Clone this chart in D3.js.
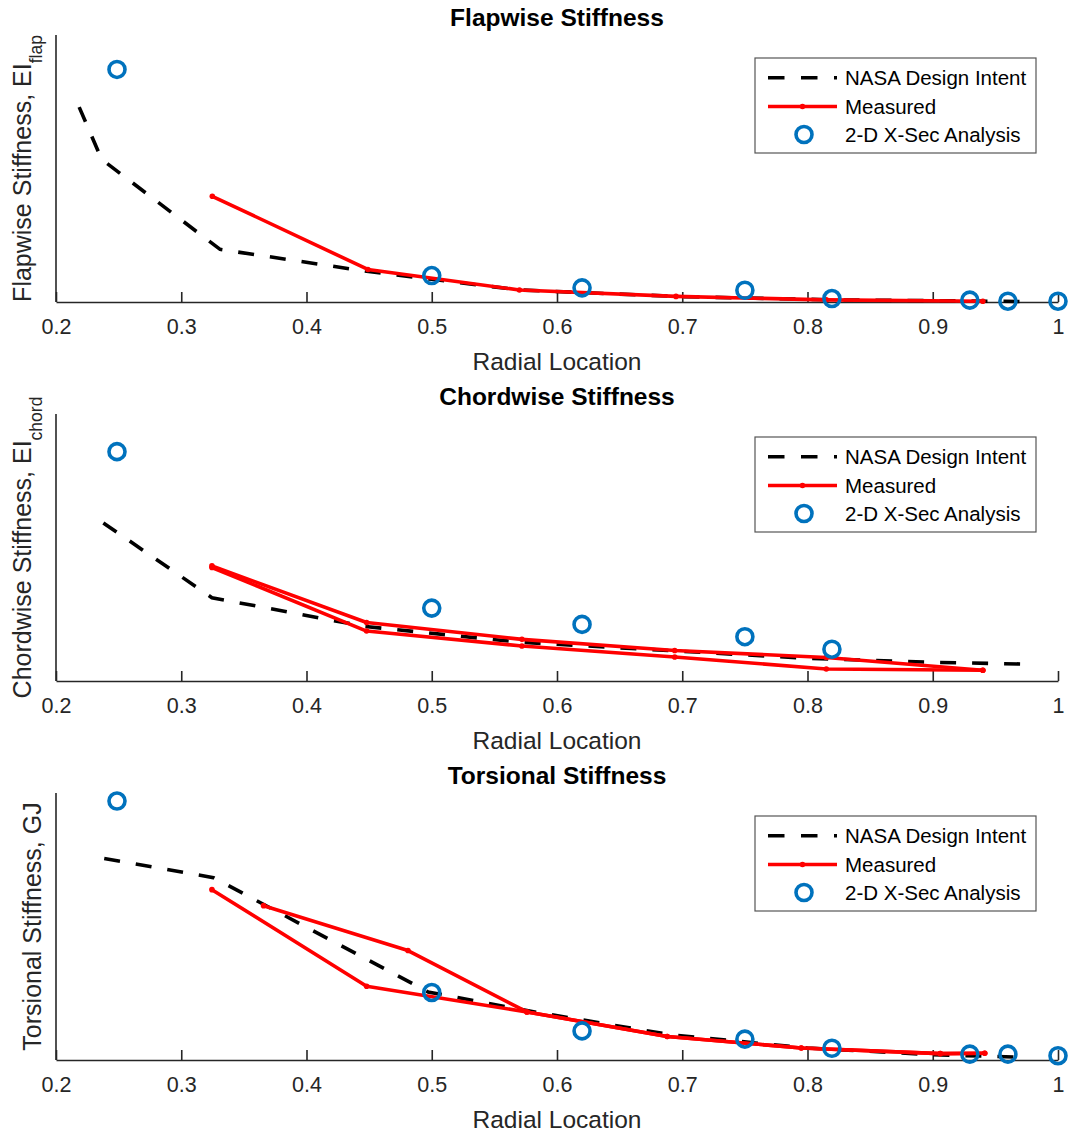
<!DOCTYPE html>
<html>
<head>
<meta charset="utf-8">
<script src="https://cdn.jsdelivr.net/npm/d3@7"></script>
<style>
  body { margin: 0; background: #fff; }
  text { font-family: "Liberation Sans", Arial, Helvetica, sans-serif; }
</style>
</head>
<body>
<div class="stiffgraph"></div>
<script>
// values, y axis has no ticks so y is normalised 0..1
var xTicks = [0.2, 0.3, 0.4, 0.5, 0.6, 0.7, 0.8, 0.9, 1];

// flapwise
var flapNasaX = [0.2185, 0.2365, 0.331, 0.448, 0.5, 0.57, 0.7, 0.82, 0.97];
var flapNasaY = [0.73, 0.534, 0.197, 0.115, 0.085, 0.045, 0.02, 0.008, 0.002];
var flapMeasX = [0.3248, 0.449, 0.57, 0.695, 0.815, 0.94];
var flapMeasY = [0.396, 0.122, 0.045, 0.021, 0.008, 0.003];
var flapXsecX = [0.2487, 0.5, 0.62, 0.75, 0.8195, 0.9296, 0.96, 1.0];
var flapXsecY = [0.871, 0.099, 0.053, 0.044, 0.013, 0.007, 0.003, 0.003];

// chordwise
var chordNasaX = [0.2378, 0.3245, 0.447, 0.571, 0.8, 0.9, 0.977];
var chordNasaY = [0.592, 0.312, 0.204, 0.145, 0.085, 0.07, 0.063];
var chordMeasAX = [0.3245, 0.448, 0.572, 0.694, 0.815, 0.94];
var chordMeasAY = [0.431, 0.219, 0.156, 0.114, 0.088, 0.04];
var chordMeasBX = [0.3245, 0.448, 0.572, 0.694, 0.815, 0.94];
var chordMeasBY = [0.425, 0.187, 0.131, 0.09, 0.045, 0.04];
var chordXsecX = [0.2487, 0.5, 0.62, 0.75, 0.8195];
var chordXsecY = [0.859, 0.273, 0.212, 0.166, 0.119];

// torsional
var torsNasaX = [0.2385, 0.3257, 0.497, 0.576, 0.69, 0.8, 0.9, 0.975];
var torsNasaY = [0.755, 0.683, 0.255, 0.185, 0.095, 0.045, 0.02, 0.01];
var torsMeasAX = [0.3245, 0.448, 0.576, 0.688, 0.795, 0.906, 0.9415];
var torsMeasAY = [0.638, 0.276, 0.18, 0.088, 0.045, 0.024, 0.025];
var torsMeasBX = [0.3657, 0.481, 0.576, 0.688, 0.795, 0.906, 0.9415];
var torsMeasBY = [0.578, 0.41, 0.18, 0.088, 0.045, 0.024, 0.025];
var torsXsecX = [0.2487, 0.5, 0.62, 0.75, 0.8195, 0.9296, 0.96, 1.0];
var torsXsecY = [0.970, 0.253, 0.109, 0.078, 0.044, 0.022, 0.022, 0.016];

var legendNames = ["NASA Design Intent", "Measured", "2-D X-Sec Analysis"];

var panels = [
  {title: "Flapwise Stiffness", ylab: "Flapwise Stiffness, EI", sub: "flap",
   nasa: d3.zip(flapNasaX, flapNasaY),
   meas: [d3.zip(flapMeasX, flapMeasY)],
   xsec: d3.zip(flapXsecX, flapXsecY)},
  {title: "Chordwise Stiffness", ylab: "Chordwise Stiffness, EI", sub: "chord",
   nasa: d3.zip(chordNasaX, chordNasaY),
   meas: [d3.zip(chordMeasAX, chordMeasAY), d3.zip(chordMeasBX, chordMeasBY)],
   xsec: d3.zip(chordXsecX, chordXsecY)},
  {title: "Torsional Stiffness", ylab: "Torsional Stiffness, GJ", sub: null,
   nasa: d3.zip(torsNasaX, torsNasaY),
   meas: [d3.zip(torsMeasAX, torsMeasAY), d3.zip(torsMeasBX, torsMeasBY)],
   xsec: d3.zip(torsXsecX, torsXsecY)}
];

var Width = 1073, Height = 1134;
var left = 56, right = 1058;
var plotH = 267;
var panelTop = [35, 414, 793];
var axisColor = "#262626";
var blue = "#0072BD", red = "#FF0000";

var svg = d3.select(".stiffgraph").append("svg")
    .attr("width", Width)
    .attr("height", Height);

var x = d3.scaleLinear().domain([0.2, 1]).range([left, right]);
var midX = (left + right) / 2;

panels.forEach(function(p, i) {
  var top = panelTop[i];
  var bottom = top + plotH;
  var y = d3.scaleLinear().domain([0, 1]).range([bottom, top]);
  var g = svg.append("g");

  var line = d3.line()
      .x(function(d) { return x(d[0]); })
      .y(function(d) { return y(d[1]); });

  // x axis, ticks pointing in
  var xa = g.append("g")
      .attr("transform", "translate(0," + bottom + ")")
      .call(d3.axisBottom(x)
        .tickValues(xTicks)
        .tickSize(-10)
        .tickSizeOuter(0)
        .tickPadding(16.5)
        .tickFormat(d3.format("")));
  xa.select(".domain").attr("stroke", axisColor).attr("stroke-width", 1.6);
  xa.selectAll(".tick line").attr("stroke", axisColor).attr("stroke-width", 1.6);
  xa.selectAll(".tick text")
      .style("font-size", "21.5px")
      .attr("fill", axisColor)
      .attr("font-family", "Liberation Sans, Arial, sans-serif");

  // y spine only
  g.append("line")
      .attr("x1", left).attr("x2", left)
      .attr("y1", top).attr("y2", bottom)
      .attr("stroke", axisColor)
      .attr("stroke-width", 1.6);

  // NASA dashed
  g.append("path")
      .datum(p.nasa)
      .attr("fill", "none")
      .attr("stroke", "#000")
      .attr("stroke-width", 3.6)
      .attr("stroke-dasharray", "16,16")
      .attr("d", line);

  // measured
  p.meas.forEach(function(m) {
    g.append("path")
        .datum(m)
        .attr("fill", "none")
        .attr("stroke", red)
        .attr("stroke-width", 3.6)
        .attr("stroke-linejoin", "round")
        .attr("d", line);
    g.selectAll(null)
        .data(m)
        .enter().append("circle")
        .attr("cx", function(d) { return x(d[0]); })
        .attr("cy", function(d) { return y(d[1]); })
        .attr("r", 2.8)
        .attr("fill", red);
  });

  // 2-D cross-section analysis
  g.selectAll(null)
      .data(p.xsec)
      .enter().append("circle")
      .attr("cx", function(d) { return x(d[0]); })
      .attr("cy", function(d) { return y(d[1]); })
      .attr("r", 8)
      .attr("fill", "none")
      .attr("stroke", blue)
      .attr("stroke-width", 3.6);

  // title
  g.append("text")
      .attr("x", midX)
      .attr("y", top - 9.5)
      .attr("text-anchor", "middle")
      .style("font-size", "24.5px")
      .style("font-weight", "bold")
      .attr("fill", "#000")
      .text(p.title);

  // x label
  g.append("text")
      .attr("x", midX)
      .attr("y", bottom + 67.5)
      .attr("text-anchor", "middle")
      .style("font-size", "24.5px")
      .attr("fill", axisColor)
      .text("Radial Location");

  // y label, right edge kept next to the axis
  var yl = g.append("text")
      .attr("text-anchor", "middle")
      .style("font-size", "25px")
      .attr("fill", axisColor);
  yl.append("tspan").text(p.ylab);
  if (p.sub) {
    yl.append("tspan").attr("dy", 11).style("font-size", "17.5px").text(p.sub);
  }
  var bb = yl.node().getBBox();
  var tx = 46 - (bb.y + bb.height);
  yl.attr("transform", "translate(" + tx + "," + ((top + bottom) / 2) + ") rotate(-90)");

  // legend
  var lx = 755, ly = top + 23;
  var leg = g.append("g").attr("transform", "translate(" + lx + "," + ly + ")");
  leg.append("rect")
      .attr("x", 0).attr("y", 0)
      .attr("width", 281).attr("height", 95)
      .attr("fill", "#fff")
      .attr("stroke", "#555")
      .attr("stroke-width", 1.2);
  var rows = [19.7, 48.5, 76.5];
  leg.append("line")
      .attr("x1", 13).attr("x2", 82)
      .attr("y1", rows[0]).attr("y2", rows[0])
      .attr("stroke", "#000").attr("stroke-width", 3.6)
      .attr("stroke-dasharray", "16.5,16.5");
  leg.append("line")
      .attr("x1", 13).attr("x2", 82)
      .attr("y1", rows[1]).attr("y2", rows[1])
      .attr("stroke", red).attr("stroke-width", 3.6);
  leg.append("circle")
      .attr("cx", 47.5).attr("cy", rows[1]).attr("r", 2.8).attr("fill", red);
  leg.append("circle")
      .attr("cx", 49).attr("cy", rows[2]).attr("r", 8)
      .attr("fill", "none").attr("stroke", blue).attr("stroke-width", 3.6);
  leg.selectAll(null)
      .data(legendNames)
      .enter().append("text")
      .attr("x", 90)
      .attr("y", function(d, k) { return rows[k] + 7; })
      .style("font-size", "20.5px")
      .attr("fill", "#000")
      .text(function(d) { return d; });
});
</script>
</body>
</html>
